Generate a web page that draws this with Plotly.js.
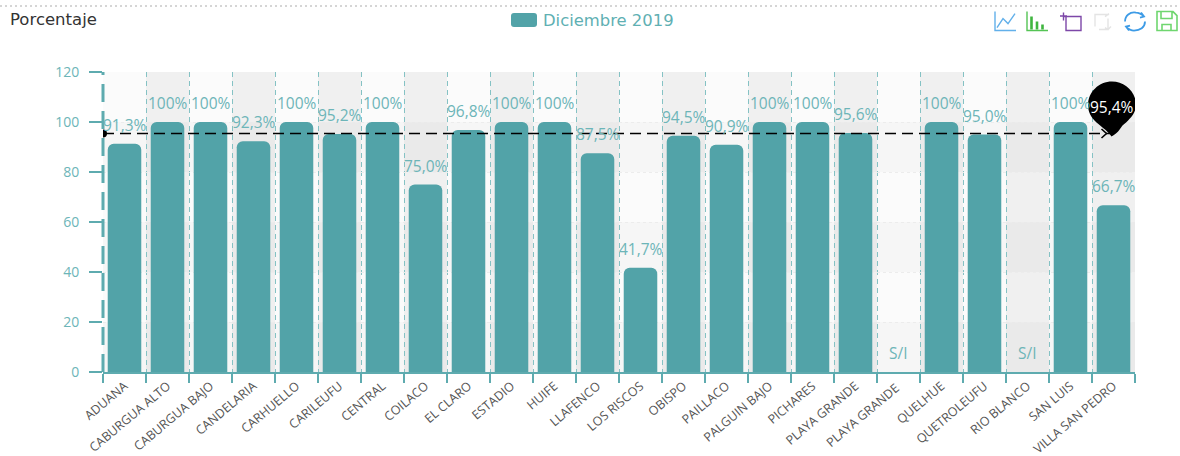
<!DOCTYPE html>
<html><head><meta charset="utf-8">
<script src="https://cdn.plot.ly/plotly-3.0.1.min.js"></script>
<style>html,body{margin:0;padding:0;background:#fff}#c{width:1180px;height:456px}</style></head>
<body><div id="c"></div>
<script>
// trailing space keeps the second PLAYA GRANDE a separate category
const categories = ["ADUANA","CABURGUA ALTO","CABURGUA BAJO","CANDELARIA","CARHUELLO","CARILEUFU","CENTRAL","COILACO","EL CLARO","ESTADIO","HUIFE","LLAFENCO","LOS RISCOS","OBISPO","PAILLACO","PALGUIN BAJO","PICHARES","PLAYA GRANDE","PLAYA GRANDE ","QUELHUE","QUETROLEUFU","RIO BLANCO","SAN LUIS","VILLA SAN PEDRO"];
const values = [91.3,100,100,92.3,100,95.2,100,75,96.8,100,100,87.5,41.7,94.5,90.9,100,100,95.6,null,100,95,null,100,66.7];
const valueLabels = ["91,3%","100%","100%","92,3%","100%","95,2%","100%","75,0%","96,8%","100%","100%","87,5%","41,7%","94,5%","90,9%","100%","100%","95,6%","S/I","100%","95,0%","S/I","100%","66,7%"];
const yTicks = [0,20,40,60,80,100,120];
const meanValue = 95.4, meanLabel = "95,4%";
const seriesName = "Diciembre 2019", chartTitle = "Porcentaje";

const W=1180,H=456,L=103,R=1135,T=71.5,B=372;
const TEAL="#52a3a8", TEALTXT="#6db5b8", LINE="#5eabaf";
const shapes=[];
// split areas
yTicks.slice(0,-1).forEach((v,i)=>shapes.push({type:"rect",layer:"below",xref:"paper",yref:"y",x0:0,x1:1,y0:v,y1:yTicks[i+1],line:{width:0},fillcolor:i%2?"rgba(250,250,250,0.3)":"rgba(200,200,200,0.18)"}));
categories.forEach((c,i)=>shapes.push({type:"rect",layer:"below",xref:"x",yref:"paper",x0:i-.5,x1:i+.5,y0:0,y1:1,line:{width:0},fillcolor:i%2?"rgba(200,200,200,0.24)":"rgba(250,250,250,0.3)"}));
// y axis dashed line
shapes.push({type:"line",xref:"paper",yref:"y",x0:0,x1:0,y0:0,y1:120,line:{color:LINE,width:3,dash:"18px,9px"}});
// mean line
shapes.push({type:"line",xref:"x",yref:"y",x0:-.5,x1:23,y0:meanValue,y1:meanValue,line:{color:"#000",width:1.6,dash:"11px,6px"}});
const anch=(path,o)=>Object.assign({type:"path",xref:"x",yref:"y",xsizemode:"pixel",ysizemode:"pixel",xanchor:23,yanchor:meanValue,path,line:{width:0}},o);
shapes.push({type:"circle",xref:"x",yref:"y",xsizemode:"pixel",ysizemode:"pixel",xanchor:-.5,yanchor:meanValue,x0:-4,x1:4,y0:-4,y1:4,fillcolor:"#000",line:{width:0}});
// arrow head
shapes.push(anch("M -12 4.5 L -7 0 L -12 -4.5",{line:{color:"#000",width:1.6}}));
// pin
shapes.push(anch("M -2 -3 C -6 3 -14 8 -19 13 C -24 18 -25.5 24 -25.5 28.5 C -25.5 41.5 -14.5 52 -1.5 52 C 11.5 52 22.5 41.5 22.5 28.5 C 22.5 20 15 13 9 8 C 6 4 4 0 -2 -3 Z",{fillcolor:"#000"}));
const px=x=>(x-L)/(R-L), py=y=>(B-y)/(B-T);
shapes.push({type:"line",xref:"paper",yref:"paper",x0:px(0),x1:px(1180),y0:py(5.5),y1:py(5.5),line:{color:"#c8c8c8",width:1.5,dash:"2px,3px"}});
const icon=(x,y,path,color,w)=>shapes.push({type:"path",xref:"paper",yref:"paper",xsizemode:"pixel",ysizemode:"pixel",xanchor:px(x),yanchor:py(y),path,fillcolor:"rgba(0,0,0,0)",line:{color,width:w||1.4}});
icon(995,30,"M 0 19 L 0 0 L 21 0 M 2 3 L 8 12 L 13 7 L 20 17","#62b0ea");
icon(1027,30,"M 0 19 L 0 0 L 21 0","#55c455");
icon(1030,30,"M 1.5 1 V 14 M 7 1 V 9 M 12.5 1 V 6","#3fb53f",2.6);
icon(1060,30,"M 6 15 V 0 H 21 V 14 H 4 M 0 14.5 H 7 M 3.5 18 V 10","#7d47a8",1.4);
icon(1094,30,"M 1 4 V 16 H 15 M 5 1 H 14 V 12 M 11 14 L 15 17 M 17 4 L 14 1 L 11 3","#e4e4e4",1.4);
icon(1124,30,"M 1 9 C 1 15 6 19 12 18 C 15 18 18 16 20 14 M 17 18 L 20 14 L 16 13 M 21 9 C 21 3 16 0 10 0 C 7 0 4 2 2 4 M 5 0 L 2 4 L 6 5","#3d9be6",1.8);
icon(1157,30,"M 0 0 V 19 H 16 L 20 15 V 0 Z M 4 19 V 12 H 15 V 19 M 5 0 V 6 H 14 V 0","#6fd66f",1.6);
// tall legend swatch behind the real one
shapes.push({type:"path",xref:"paper",yref:"paper",xsizemode:"pixel",ysizemode:"pixel",xanchor:px(524),yanchor:py(19.5),path:"M -13 4 Q -13 7 -10 7 H 10 Q 13 7 13 4 V -4 Q 13 -7 10 -7 H -10 Q -13 -7 -13 -4 Z",fillcolor:TEAL,line:{width:0}});

const annotations=categories.map((c,i)=>({x:c,y:values[i]===null?0:values[i],xref:"x",yref:"y",text:valueLabels[i],showarrow:false,yshift:19,yanchor:"middle",font:{family:"Open Sans",size:15.5,color:TEALTXT}}));
annotations.push({x:categories[23],y:meanValue,xref:"x",yref:"y",text:meanLabel,showarrow:false,xshift:-1.5,yshift:26.5,font:{family:"Open Sans",size:15.5,color:"#fff"}});
annotations.push({xref:"paper",yref:"paper",x:px(10),y:py(19),xanchor:"left",yanchor:"middle",text:chartTitle,showarrow:false,font:{family:"DejaVu Sans",size:16.5,color:"#333"},borderpad:0,borderwidth:0});

const trace={type:"bar",name:seriesName,x:categories,y:values,marker:{color:TEAL,cornerradius:6,line:{width:0}},hoverinfo:"x+y"};
Plotly.newPlot("c",[trace],{
  width:W,height:H,margin:{l:L,r:W-R,t:T,b:H-B,pad:0},paper_bgcolor:"#fff",plot_bgcolor:"rgba(0,0,0,0)",
  bargap:.22,showlegend:true,
  legend:{orientation:"h",xref:"container",yref:"container",x:503/W,xanchor:"left",y:1-19.5/H,yanchor:"middle",bgcolor:"rgba(0,0,0,0)",font:{family:"DejaVu Sans",size:16.4,color:"#5fb0b3"},itemclick:false},
  xaxis:{type:"category",categoryorder:"array",categoryarray:categories,tickson:"boundaries",dtick:1,tickangle:-40,ticks:"outside",ticklen:9,tickwidth:2,tickcolor:LINE,showline:true,linecolor:LINE,linewidth:2,showgrid:true,gridcolor:"#85c2c4",griddash:"5px,4px",gridwidth:1.4,tickfont:{family:"Open Sans",size:12.5,color:"#555"},automargin:false,range:[-.5,23.5],fixedrange:true},
  yaxis:{range:[0,120],tickvals:yTicks,ticks:"outside",ticklen:13,tickwidth:2,tickcolor:LINE,showline:false,zeroline:false,showgrid:true,griddash:"dot",gridcolor:"#ececec",gridwidth:1,tickfont:{family:"Open Sans",size:14,color:TEALTXT},ticklabelstandoff:7,automargin:false,fixedrange:true},
  shapes,annotations
},{displayModeBar:false});
</script></body></html>
